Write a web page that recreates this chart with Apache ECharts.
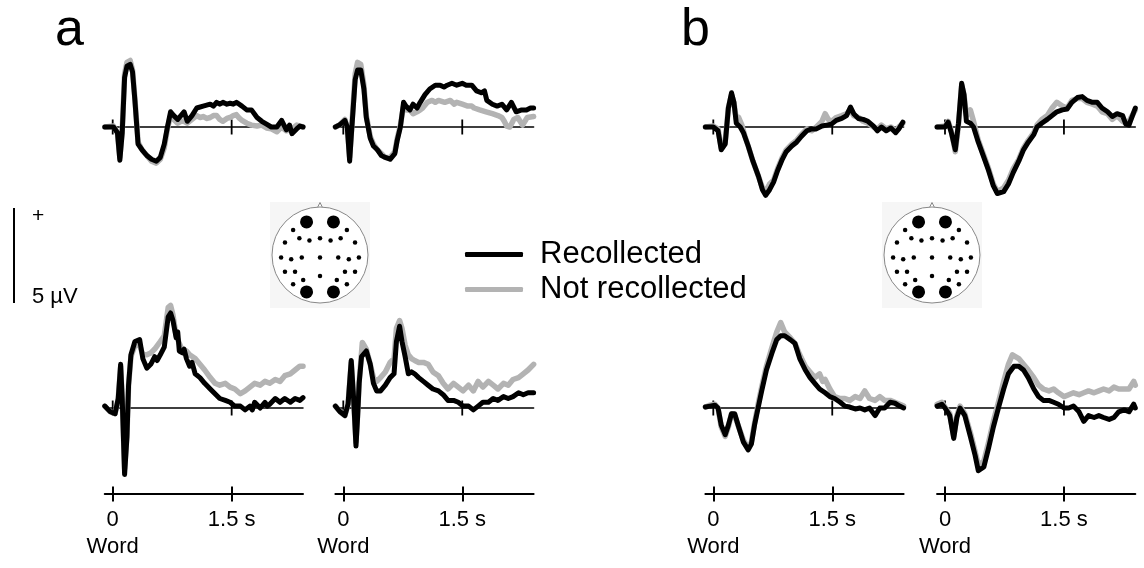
<!DOCTYPE html>
<html><head><meta charset="utf-8">
<script src="https://cdn.jsdelivr.net/npm/echarts@6/dist/echarts.min.js"></script>
<style>html,body{margin:0;padding:0;background:#fff}#c{width:1144px;height:568px}</style>
</head><body><div id="c"></div>
<script>
// ---------- data (time in s, amplitude in µV) ----------
const timeTicks = [0, 1.5];
const timeTickLabels = ['0\nWord', '1.5 s'];
const legendNames = ['Recollected', 'Not recollected'];
const panelLetters = ['a', 'b'];
const scaleBarUV = [[0, 0], [0, 5]];
const scaleBarTexts = ['+', '5 µV'];

const a1Rec = [[-0.1,0],[0.01,0],[0.06,-0.3],[0.09,-1.75],[0.12,-0.3],[0.15,2.6],[0.18,3.2],[0.22,3.3],[0.25,2.9],[0.28,1.4],[0.32,-0.9],[0.37,-1.2],[0.43,-1.5],[0.49,-1.7],[0.55,-1.8],[0.6,-1.6],[0.65,-0.9],[0.69,0],[0.73,0.8],[0.77,0.6],[0.82,0.4],[0.86,0.6],[0.9,0.8],[0.94,0.3],[1.0,0.6],[1.06,1.0],[1.14,1.1],[1.23,1.2],[1.27,1.1],[1.31,1.3],[1.35,1.2],[1.39,1.3],[1.44,1.2],[1.48,1.25],[1.52,1.2],[1.56,1.3],[1.63,1.1],[1.69,0.9],[1.75,0.9],[1.82,0.5],[1.88,0.3],[1.94,0.15],[2.0,0],[2.07,0],[2.13,0.35],[2.19,-0.15],[2.23,0.1],[2.26,-0.35],[2.32,-0.1],[2.36,0.05],[2.4,0]];
const a1Not = [[-0.1,0],[0.01,0.05],[0.06,-0.3],[0.09,-1.6],[0.12,-0.2],[0.15,2.8],[0.18,3.4],[0.22,3.5],[0.25,3.0],[0.28,1.5],[0.32,-0.8],[0.37,-1.2],[0.43,-1.5],[0.49,-1.8],[0.55,-1.9],[0.6,-1.7],[0.65,-1.1],[0.69,-0.1],[0.73,0.6],[0.77,0.4],[0.82,0.2],[0.86,0.3],[0.9,0.3],[0.94,0.2],[1.0,0.4],[1.06,0.6],[1.1,0.5],[1.14,0.55],[1.19,0.45],[1.23,0.5],[1.27,0.6],[1.31,0.6],[1.35,0.4],[1.39,0.3],[1.44,0.45],[1.48,0.5],[1.52,0.6],[1.56,0.65],[1.6,0.45],[1.63,0.35],[1.69,0.2],[1.75,0.1],[1.82,0.05],[1.88,0.1],[1.94,-0.05],[2.0,-0.1],[2.07,-0.25],[2.13,0],[2.19,-0.2],[2.26,-0.1],[2.32,0.1],[2.4,0]];
const a2Rec = [[-0.1,0],[-0.05,0.1],[0.02,0.35],[0.05,0],[0.08,-1.8],[0.1,-0.5],[0.15,2.5],[0.18,3.0],[0.22,3.0],[0.26,2.0],[0.29,0.5],[0.34,-0.6],[0.38,-1.0],[0.43,-1.2],[0.48,-1.5],[0.53,-1.6],[0.59,-1.7],[0.65,-1.4],[0.68,-0.7],[0.72,0],[0.76,1.3],[0.79,1.1],[0.84,0.9],[0.88,1.2],[0.93,1.0],[0.97,1.3],[1.03,1.7],[1.09,2.0],[1.16,2.2],[1.22,2.2],[1.27,2.1],[1.31,2.2],[1.37,2.3],[1.43,2.2],[1.5,2.3],[1.55,2.2],[1.62,2.2],[1.68,1.9],[1.74,1.8],[1.78,1.9],[1.81,1.4],[1.88,1.2],[1.94,1.1],[2.0,1.2],[2.06,0.9],[2.12,1.3],[2.18,0.8],[2.25,0.9],[2.31,0.9],[2.36,1.0],[2.4,1.0]];
const a2Not = [[-0.1,0],[-0.05,0.1],[0.02,0.4],[0.05,0],[0.08,-1.6],[0.1,-0.4],[0.15,2.8],[0.18,3.4],[0.22,3.3],[0.26,2.2],[0.29,0.6],[0.34,-0.5],[0.38,-0.9],[0.43,-1.2],[0.48,-1.4],[0.53,-1.6],[0.59,-1.6],[0.65,-1.3],[0.68,-0.6],[0.72,0.1],[0.76,1.1],[0.8,0.9],[0.84,0.9],[0.88,0.7],[0.93,0.8],[0.97,0.9],[1.0,1.0],[1.06,1.3],[1.12,1.4],[1.16,1.3],[1.2,1.4],[1.28,1.3],[1.35,1.4],[1.4,1.2],[1.43,1.3],[1.5,1.2],[1.57,1.1],[1.62,1.1],[1.65,1.0],[1.72,0.9],[1.8,0.8],[1.88,0.7],[1.95,0.6],[2.0,0.5],[2.03,0.3],[2.06,0.05],[2.1,0.0],[2.15,0.4],[2.2,0.5],[2.26,0.1],[2.32,0.5],[2.4,0.55]];
const b1Rec = [[-0.1,0],[0.0,0],[0.06,-0.2],[0.1,-1.2],[0.15,-0.9],[0.19,1.0],[0.23,1.8],[0.26,1.3],[0.29,0.2],[0.34,0],[0.38,-0.3],[0.44,-1.0],[0.5,-1.8],[0.57,-2.6],[0.62,-3.3],[0.66,-3.6],[0.71,-3.3],[0.76,-2.9],[0.81,-2.3],[0.87,-1.7],[0.92,-1.3],[0.99,-1.0],[1.05,-0.8],[1.11,-0.5],[1.18,-0.2],[1.24,-0.1],[1.3,-0.1],[1.37,0.05],[1.43,0.1],[1.49,0.15],[1.55,0.35],[1.62,0.45],[1.68,0.6],[1.73,1.05],[1.77,0.7],[1.83,0.45],[1.89,0.4],[1.95,0.3],[2.02,0.05],[2.07,-0.2],[2.12,0.0],[2.18,-0.2],[2.24,-0.05],[2.3,-0.3],[2.34,-0.1],[2.39,0.25]];
const b1Not = [[-0.1,0],[0.0,0.05],[0.06,-0.1],[0.1,-1.1],[0.15,-0.8],[0.19,1.0],[0.23,1.7],[0.26,1.3],[0.29,0.4],[0.32,0.5],[0.36,0.1],[0.4,-0.5],[0.44,-1.0],[0.5,-1.8],[0.57,-2.6],[0.62,-3.2],[0.66,-3.4],[0.71,-3.0],[0.76,-2.8],[0.81,-2.2],[0.87,-1.6],[0.92,-1.2],[0.99,-0.9],[1.05,-0.7],[1.11,-0.4],[1.18,-0.1],[1.24,-0.2],[1.3,0.0],[1.37,0.3],[1.41,0.7],[1.45,0.4],[1.49,0.3],[1.55,0.5],[1.62,0.6],[1.68,0.7],[1.73,0.9],[1.77,0.6],[1.83,0.5],[1.89,0.3],[1.95,0.2],[2.02,0.0],[2.07,-0.1],[2.12,0.1],[2.18,-0.1],[2.24,0.0],[2.3,-0.2],[2.34,0.0],[2.39,0.2]];
const b2Rec = [[-0.1,0],[0.0,0],[0.04,0.25],[0.08,-0.3],[0.13,-1.2],[0.17,0.2],[0.21,2.3],[0.24,1.7],[0.27,0.3],[0.32,0.2],[0.36,0],[0.42,-0.8],[0.49,-1.6],[0.55,-2.3],[0.61,-3.1],[0.66,-3.5],[0.74,-3.4],[0.8,-3.0],[0.86,-2.4],[0.93,-1.8],[0.99,-1.2],[1.05,-0.8],[1.12,-0.4],[1.16,0],[1.22,0.2],[1.29,0.4],[1.35,0.6],[1.41,0.8],[1.48,0.9],[1.54,0.95],[1.6,1.3],[1.67,1.55],[1.73,1.6],[1.79,1.4],[1.86,1.3],[1.92,1.3],[1.98,1.0],[2.05,0.8],[2.11,0.55],[2.17,0.7],[2.24,0.6],[2.28,0.15],[2.32,0.1],[2.4,1.0]];
const b2Not = [[-0.1,0],[0.0,0.05],[0.04,0.3],[0.08,-0.2],[0.13,-1.3],[0.17,0.1],[0.21,2.2],[0.24,1.7],[0.27,0.6],[0.32,0.9],[0.36,0.3],[0.42,-0.7],[0.49,-1.5],[0.55,-2.2],[0.61,-3.0],[0.66,-3.4],[0.74,-3.2],[0.8,-2.8],[0.86,-2.2],[0.93,-1.7],[0.99,-1.1],[1.05,-0.7],[1.12,-0.3],[1.16,0.1],[1.22,0.4],[1.29,0.6],[1.35,1.0],[1.41,1.3],[1.48,1.1],[1.54,1.0],[1.6,1.4],[1.67,1.5],[1.73,1.5],[1.79,1.3],[1.86,1.2],[1.92,1.1],[1.98,0.8],[2.05,0.7],[2.11,0.4],[2.17,0.6],[2.24,0.3],[2.28,0.2],[2.32,0.3],[2.4,0.9]];
const a3Rec = [[-0.1,0.1],[-0.03,-0.2],[0.03,-0.3],[0.07,0.5],[0.1,2.3],[0.12,0.5],[0.15,-3.5],[0.18,-1.5],[0.2,1.2],[0.23,2.8],[0.28,3.5],[0.34,3.6],[0.38,2.6],[0.43,2.1],[0.48,2.3],[0.53,2.7],[0.56,2.5],[0.6,2.8],[0.65,3.2],[0.7,4.8],[0.73,5.0],[0.76,4.6],[0.8,3.7],[0.82,4.0],[0.84,3.0],[0.88,2.9],[0.9,3.1],[0.93,2.6],[0.97,2.2],[1.0,2.4],[1.04,1.8],[1.1,1.6],[1.16,1.3],[1.23,1.0],[1.29,0.75],[1.35,0.5],[1.42,0.4],[1.48,0.3],[1.54,0.1],[1.61,0.1],[1.67,-0.1],[1.73,0.1],[1.76,-0.1],[1.79,0.3],[1.86,0.0],[1.92,0.3],[1.95,0.1],[1.98,0.2],[2.05,0.5],[2.11,0.3],[2.17,0.5],[2.24,0.3],[2.3,0.5],[2.36,0.4],[2.4,0.55]];
const a3Not = [[-0.1,0.1],[-0.03,-0.2],[0.03,-0.3],[0.07,0.5],[0.1,2.2],[0.12,0.5],[0.15,-3.2],[0.18,-1.4],[0.2,1.2],[0.23,2.7],[0.28,3.3],[0.34,3.3],[0.38,2.8],[0.43,2.8],[0.48,2.9],[0.53,3.1],[0.6,3.5],[0.65,3.8],[0.7,5.3],[0.73,5.4],[0.76,4.9],[0.8,3.8],[0.84,3.4],[0.88,3.0],[0.93,3.0],[0.97,2.8],[1.04,2.6],[1.1,2.3],[1.16,2.0],[1.23,1.6],[1.29,1.3],[1.35,1.2],[1.42,1.3],[1.48,1.1],[1.54,1.0],[1.61,0.75],[1.67,0.9],[1.73,1.1],[1.79,1.3],[1.86,1.2],[1.92,1.4],[1.98,1.3],[2.05,1.5],[2.11,1.4],[2.17,1.7],[2.24,1.8],[2.3,2.0],[2.36,2.2],[2.4,2.2]];
const a4Rec = [[-0.1,0.1],[-0.04,-0.2],[0.02,-0.4],[0.06,0.2],[0.1,2.5],[0.13,0.5],[0.16,-2.0],[0.18,-0.5],[0.2,1.3],[0.23,2.7],[0.29,3.0],[0.34,2.3],[0.38,1.3],[0.42,0.9],[0.47,0.9],[0.53,1.2],[0.59,1.6],[0.64,1.8],[0.67,3.5],[0.71,4.3],[0.74,3.5],[0.78,2.7],[0.82,1.8],[0.86,1.9],[0.9,1.8],[0.95,1.6],[1.01,1.4],[1.07,1.2],[1.13,1.0],[1.2,0.9],[1.26,0.7],[1.32,0.4],[1.39,0.4],[1.45,0.3],[1.51,0.1],[1.58,0.1],[1.64,-0.1],[1.7,0.1],[1.76,0.3],[1.83,0.3],[1.89,0.5],[1.95,0.4],[2.02,0.6],[2.08,0.5],[2.14,0.6],[2.21,0.8],[2.27,0.7],[2.33,0.8],[2.4,0.8]];
const a4Not = [[-0.1,0.1],[-0.04,-0.2],[0.02,-0.4],[0.06,0.2],[0.1,2.4],[0.13,0.5],[0.16,-1.8],[0.18,-0.4],[0.2,1.4],[0.24,3.45],[0.29,3.1],[0.34,2.3],[0.38,1.6],[0.42,1.4],[0.47,1.6],[0.53,1.9],[0.59,2.4],[0.64,2.6],[0.67,4.2],[0.71,4.6],[0.74,4.2],[0.78,3.3],[0.82,2.8],[0.86,2.6],[0.9,2.5],[0.95,2.4],[1.01,2.4],[1.07,2.3],[1.13,1.9],[1.2,1.7],[1.26,1.3],[1.32,1.0],[1.39,1.3],[1.45,1.1],[1.51,0.9],[1.58,1.2],[1.64,0.9],[1.7,1.4],[1.76,1.1],[1.83,1.4],[1.89,1.2],[1.95,1.0],[2.02,1.3],[2.08,1.2],[2.14,1.5],[2.21,1.6],[2.27,1.8],[2.33,2.0],[2.4,2.3]];
const b3Rec = [[-0.1,0.05],[-0.04,0.1],[0.02,0.15],[0.06,0],[0.1,-0.9],[0.15,-1.4],[0.19,-0.9],[0.23,-0.3],[0.27,-0.3],[0.32,-1.0],[0.38,-1.8],[0.44,-2.2],[0.48,-1.9],[0.52,-0.9],[0.57,0.1],[0.61,0.9],[0.67,2.0],[0.74,2.9],[0.8,3.6],[0.85,3.8],[0.9,3.8],[0.97,3.6],[1.03,3.4],[1.09,2.6],[1.16,2.0],[1.22,1.6],[1.28,1.3],[1.34,1.0],[1.41,0.8],[1.47,0.6],[1.53,0.5],[1.6,0.3],[1.66,0.1],[1.72,0.05],[1.79,-0.05],[1.85,0.0],[1.91,-0.1],[1.97,0.0],[2.04,-0.4],[2.1,0.0],[2.16,0.0],[2.23,0.3],[2.29,0.25],[2.35,0.1],[2.4,0.0]];
const b3Not = [[-0.1,0.05],[-0.04,0.15],[0.02,0.2],[0.06,0],[0.1,-1.0],[0.15,-1.5],[0.19,-1.0],[0.23,-0.3],[0.27,-0.4],[0.32,-1.0],[0.38,-1.7],[0.44,-2.1],[0.48,-1.8],[0.52,-0.8],[0.57,0.3],[0.61,1.1],[0.67,2.2],[0.74,3.2],[0.8,4.0],[0.85,4.5],[0.9,4.0],[0.97,3.7],[1.03,3.4],[1.09,2.8],[1.16,2.2],[1.22,1.9],[1.28,1.6],[1.34,1.8],[1.38,1.4],[1.41,1.5],[1.47,1.0],[1.53,0.6],[1.6,0.5],[1.66,0.5],[1.72,0.4],[1.79,0.6],[1.85,0.5],[1.91,0.9],[1.97,0.5],[2.04,0.4],[2.1,0.6],[2.16,0.4],[2.23,0.4],[2.29,0.3],[2.35,0.2],[2.4,0.1]];
const b4Rec = [[-0.1,0.1],[-0.04,0.2],[0.0,0],[0.06,-0.4],[0.11,-1.6],[0.15,-0.5],[0.19,0],[0.25,-0.4],[0.32,-1.5],[0.38,-2.5],[0.42,-3.3],[0.49,-3.1],[0.55,-2.1],[0.61,-1.0],[0.68,0.1],[0.74,1.0],[0.8,1.8],[0.87,2.2],[0.93,2.2],[0.99,2.0],[1.05,1.6],[1.12,1.0],[1.18,0.6],[1.24,0.4],[1.31,0.4],[1.37,0.3],[1.43,0.2],[1.5,0.0],[1.56,0.0],[1.62,0.1],[1.69,-0.2],[1.75,-0.7],[1.81,-0.4],[1.88,-0.5],[1.94,-0.4],[2.0,-0.5],[2.07,-0.6],[2.13,-0.5],[2.19,-0.2],[2.26,-0.1],[2.32,-0.2],[2.38,0.2],[2.4,0.0]];
const b4Not = [[-0.1,0.2],[-0.04,0.3],[0.0,0.05],[0.06,-0.3],[0.11,-1.5],[0.15,-0.4],[0.19,0.1],[0.25,-0.3],[0.32,-1.3],[0.38,-2.3],[0.42,-3.0],[0.49,-2.8],[0.55,-1.8],[0.61,-0.7],[0.68,0.4],[0.74,1.4],[0.8,2.3],[0.85,2.8],[0.93,2.6],[0.99,2.3],[1.05,2.0],[1.12,1.6],[1.18,1.2],[1.24,1.0],[1.31,0.9],[1.37,1.0],[1.43,0.8],[1.5,0.6],[1.56,0.7],[1.62,0.8],[1.69,0.7],[1.75,0.8],[1.81,0.9],[1.88,0.8],[1.94,0.9],[2.0,1.0],[2.07,0.9],[2.13,1.1],[2.19,1.0],[2.26,1.0],[2.32,1.0],[2.38,1.4],[2.4,1.2]];

// electrode montage (unit head radius, y up)
const headCenter = [[0, 0]];
const headNose = [[0, 1.0]];
const electrodesSmall = [[-0.56,0.52],[0.56,0.52],[-0.73,0.26],[-0.43,0.35],[-0.22,0.30],[0,0.35],[0.22,0.30],[0.43,0.35],[0.73,0.26],[-0.81,-0.05],[-0.60,-0.09],[-0.38,-0.05],[0,-0.05],[0.38,-0.05],[0.60,-0.09],[0.81,-0.05],[-0.73,-0.35],[-0.52,-0.35],[0,-0.44],[0.52,-0.35],[0.73,-0.35],[-0.56,-0.61],[-0.35,-0.52],[0.35,-0.52],[0.56,-0.61]];
const electrodesLarge = [[-0.28,0.69],[0.28,0.69],[-0.28,-0.77],[0.28,-0.77]];

// ---------- layout ----------
const FONT = '"Liberation Sans", Arial, Helvetica, sans-serif';
const PXS = 79.3;           // px per second
const PXUV = 19;            // px per µV
const panelDefs = [
  {rec: a1Rec, not: a1Not, t0: 112.7, bottom: false},
  {rec: a2Rec, not: a2Not, t0: 343.3, bottom: false},
  {rec: b1Rec, not: b1Not, t0: 713.3, bottom: false},
  {rec: b2Rec, not: b2Not, t0: 945.0, bottom: false},
  {rec: a3Rec, not: a3Not, t0: 112.7, bottom: true},
  {rec: a4Rec, not: a4Not, t0: 343.3, bottom: true},
  {rec: b3Rec, not: b3Not, t0: 713.3, bottom: true},
  {rec: b4Rec, not: b4Not, t0: 945.0, bottom: true}
];
const TMIN = -0.1, TMAX = 2.4;
const headCenters = [[320, 255], [932, 255]];
const HEAD_R = 48;

const grids = [], xAxes = [], yAxes = [], series = [];
const GRAY = '#b3b3b3';

panelDefs.forEach((p) => {
  const gi = grids.length;
  const yMin = p.bottom ? -4.5 : -4, yMax = p.bottom ? 6 : 4;
  const zeroY = p.bottom ? 408 : 127;
  grids.push({left: p.t0 + TMIN * PXS, top: zeroY - yMax * PXUV, width: (TMAX - TMIN) * PXS, height: (yMax - yMin) * PXUV});
  const yi = yAxes.length;
  yAxes.push({type: 'value', gridIndex: gi, min: yMin, max: yMax, show: false});
  const xi = xAxes.length;
  xAxes.push({type: 'value', gridIndex: gi, position: 'bottom', min: TMIN, max: TMAX,
    axisLine: {show: true, onZero: true, lineStyle: {color: '#000', width: 1.5}},
    axisTick: {show: false}, axisLabel: {show: false}, splitLine: {show: false}});
  if (p.bottom) {
    xAxes.push({type: 'value', gridIndex: gi, position: 'bottom', min: TMIN, max: TMAX,
      axisLine: {show: true, onZero: false, lineStyle: {color: '#000', width: 2}},
      axisTick: {show: true, customValues: timeTicks, length: 8, lineStyle: {color: '#000', width: 2}},
      axisLabel: {show: true, customValues: timeTicks, margin: 13, color: '#000', fontSize: 22, lineHeight: 27, fontFamily: FONT,
        formatter: (v) => timeTickLabels[timeTicks.indexOf(v)]},
      splitLine: {show: false}});
    xAxes.push({type: 'value', gridIndex: gi, position: 'bottom', min: TMIN, max: TMAX,
      axisLine: {show: false, onZero: false},
      axisTick: {show: true, inside: true, customValues: timeTicks, length: 7, lineStyle: {color: '#000', width: 2}},
      axisLabel: {show: false}, splitLine: {show: false}});
  }
  series.push({type: 'scatter', xAxisIndex: xi, yAxisIndex: yi, data: timeTicks.map(t => [t, 0]),
    symbol: 'rect', symbolSize: [1.8, 15], itemStyle: {color: '#000', opacity: 1}, silent: true, z: 1, clip: false});
  series.push({type: 'line', name: legendNames[1], xAxisIndex: xi, yAxisIndex: yi, data: p.not,
    color: GRAY, showSymbol: false, lineStyle: {width: 5.5, color: GRAY, join: 'round', cap: 'round'}, z: 3, silent: true});
  series.push({type: 'line', name: legendNames[0], xAxisIndex: xi, yAxisIndex: yi, data: p.rec,
    color: '#000', showSymbol: false, lineStyle: {width: 5, color: '#000', join: 'round', cap: 'round'}, z: 4, silent: true});
});

// head maps
headCenters.forEach((c) => {
  const gi = grids.length;
  grids.push({left: c[0] - HEAD_R, top: c[1] - HEAD_R, width: 2 * HEAD_R, height: 2 * HEAD_R});
  const xi = xAxes.length, yi = yAxes.length;
  xAxes.push({type: 'value', gridIndex: gi, min: -1, max: 1, show: false});
  yAxes.push({type: 'value', gridIndex: gi, min: -1, max: 1, show: false});
  const base = {type: 'scatter', xAxisIndex: xi, yAxisIndex: yi, silent: true, clip: false};
  series.push(Object.assign({}, base, {data: headNose, symbol: 'triangle', symbolSize: [9, 9],
    itemStyle: {color: '#fff', borderColor: '#888', borderWidth: 1, opacity: 1}, z: 2}));
  series.push(Object.assign({}, base, {data: headCenter, symbol: 'circle', symbolSize: 2 * HEAD_R,
    itemStyle: {color: '#fff', borderColor: '#888', borderWidth: 1, opacity: 1}, z: 3}));
  series.push(Object.assign({}, base, {data: electrodesSmall, symbol: 'circle', symbolSize: 4.5,
    itemStyle: {color: '#000', opacity: 1}, z: 4}));
  series.push(Object.assign({}, base, {data: electrodesLarge, symbol: 'circle', symbolSize: 13,
    itemStyle: {color: '#000', opacity: 1}, z: 4}));
});

// scale bar (5 µV)
{
  const gi = grids.length;
  grids.push({left: 13, top: 208, width: 2, height: 5 * PXUV});
  const xi = xAxes.length, yi = yAxes.length;
  xAxes.push({type: 'value', gridIndex: gi, min: -1, max: 1, show: false});
  yAxes.push({type: 'value', gridIndex: gi, min: 0, max: 5, show: false});
  series.push({type: 'line', xAxisIndex: xi, yAxisIndex: yi, data: scaleBarUV, showSymbol: false,
    lineStyle: {color: '#000', width: 2}, silent: true, clip: false});
}

const graphics = [];
headCenters.forEach((c) => {
  graphics.push({type: 'rect', shape: {x: c[0] - 50, y: 202, width: 100, height: 106}, style: {fill: '#f6f6f6'}, z: -10, silent: true});
});
graphics.push({type: 'text', x: 55, y: 31, style: {text: panelLetters[0], fontSize: 52, fontFamily: FONT, fill: '#000', verticalAlign: 'middle'}});
graphics.push({type: 'text', x: 681, y: 31, style: {text: panelLetters[1], fontSize: 52, fontFamily: FONT, fill: '#000', verticalAlign: 'middle'}});
graphics.push({type: 'text', x: 32, y: 216, style: {text: scaleBarTexts[0], fontSize: 21, fontFamily: FONT, fill: '#000', verticalAlign: 'middle'}});
graphics.push({type: 'text', x: 32, y: 297, style: {text: scaleBarTexts[1], fontSize: 22, fontFamily: FONT, fill: '#000', verticalAlign: 'middle'}});

const chart = echarts.init(document.getElementById('c'), null, {renderer: 'canvas'});
chart.setOption({
  animation: false,
  backgroundColor: '#fff',
  grid: grids,
  xAxis: xAxes,
  yAxis: yAxes,
  legend: {data: legendNames, orient: 'vertical', left: 465, top: 239, padding: 0,
    itemWidth: 58, itemHeight: 5, itemGap: 4, icon: 'roundRect', selectedMode: false,
    textStyle: {fontSize: 31, lineHeight: 31, color: '#000', fontFamily: FONT, padding: [0, 0, 0, 12]}},
  graphic: graphics,
  series: series
});
</script>
</body></html>
